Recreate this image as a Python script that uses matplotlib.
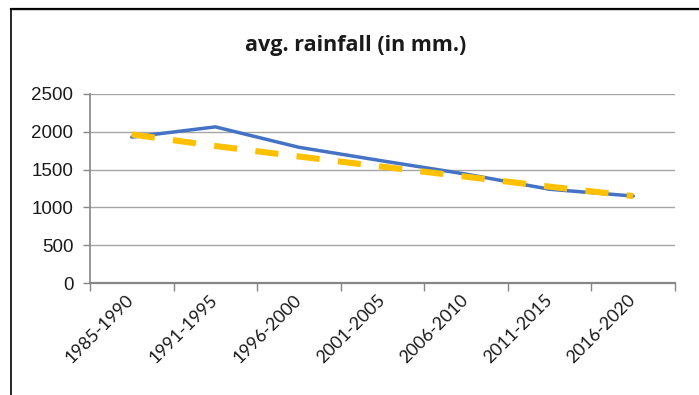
import matplotlib
matplotlib.use("Agg")
import matplotlib.pyplot as plt
from matplotlib.lines import Line2D
from matplotlib.transforms import ScaledTranslation

# Rainfall averages per five-year period
periods = ["1985-1990", "1991-1995", "1996-2000", "2001-2005",
           "2006-2010", "2011-2015", "2016-2020"]
rainfall = [1930, 2065, 1795, 1615, 1440, 1240, 1150]
trend = [1965, 1812, 1673, 1538, 1406, 1274, 1150]
y_ticks = [0, 500, 1000, 1500, 2000, 2500]

W, H = 699, 395
fig = plt.figure(figsize=(W / 100, H / 100), dpi=100)

# Chart frame (top and left edges)
fig.add_artist(Line2D([10.5 / W, 1.0], [1 - 8.5 / H, 1 - 8.5 / H],
                      transform=fig.transFigure, color="black", lw=1.6))
fig.add_artist(Line2D([10.5 / W, 1.0], [1 - 10 / H, 1 - 10 / H],
                      transform=fig.transFigure, color="#d0d0d0", lw=0.8))
fig.add_artist(Line2D([10.5 / W, 10.5 / W], [0, 1 - 8.5 / H],
                      transform=fig.transFigure, color="black", lw=1.2))

left, right, top, bottom = 90, 675, 94, 283
ax = fig.add_axes([left / W, 1 - bottom / H, (right - left) / W, (bottom - top) / H])

x = list(range(len(periods)))
ax.plot(x, rainfall, color="#4472C4", lw=2.5, solid_capstyle="round",
        solid_joinstyle="round", zorder=3)
ax.plot(x, trend, color="#FFC000", lw=4.4, dashes=(3.8, 3.0),
        dash_capstyle="butt", zorder=4)

ax.set_xlim(-0.5, len(periods) - 0.5)
ax.set_ylim(0, 2500)

# Gridlines
ax.set_yticks(y_ticks)
ax.yaxis.grid(True, color="#a6a6a6", lw=1.0)
ax.set_axisbelow(True)

for s in ["top", "right"]:
    ax.spines[s].set_visible(False)
ax.spines["left"].set_color("#868686")
ax.spines["bottom"].set_color("#868686")
ax.spines["left"].set_linewidth(1.2)
ax.spines["bottom"].set_linewidth(1.6)

ax.tick_params(axis="y", direction="out", length=5, width=1.0, color="#868686",
               labelsize=13.5, labelcolor="#1a1a1a", pad=7)
for lbl in ax.get_yticklabels():
    lbl.set_fontfamily("Liberation Sans")

# Category boundaries carry the tick marks; labels sit at category centres
ax.set_xticks([i - 0.5 for i in range(len(periods) + 1)])
ax.set_xticklabels([])
ax.tick_params(axis="x", direction="out", length=6, width=1.0, color="#868686")

offset = ScaledTranslation(-6 / 100, -9 / 100, fig.dpi_scale_trans)
for i, p in enumerate(periods):
    ax.text(i, 0, p, transform=ax.get_xaxis_transform() + offset,
            rotation=45, rotation_mode="anchor", ha="right", va="top",
            fontsize=12.8, fontfamily="Lato", color="#1a1a1a")

fig.text(356 / W, 1 - 46 / H, "avg. rainfall (in mm.)", ha="center", va="center",
         fontsize=15.5, fontweight="bold", fontfamily="Open Sans", color="#1a1a1a")

fig.savefig("out.png", dpi=100)
